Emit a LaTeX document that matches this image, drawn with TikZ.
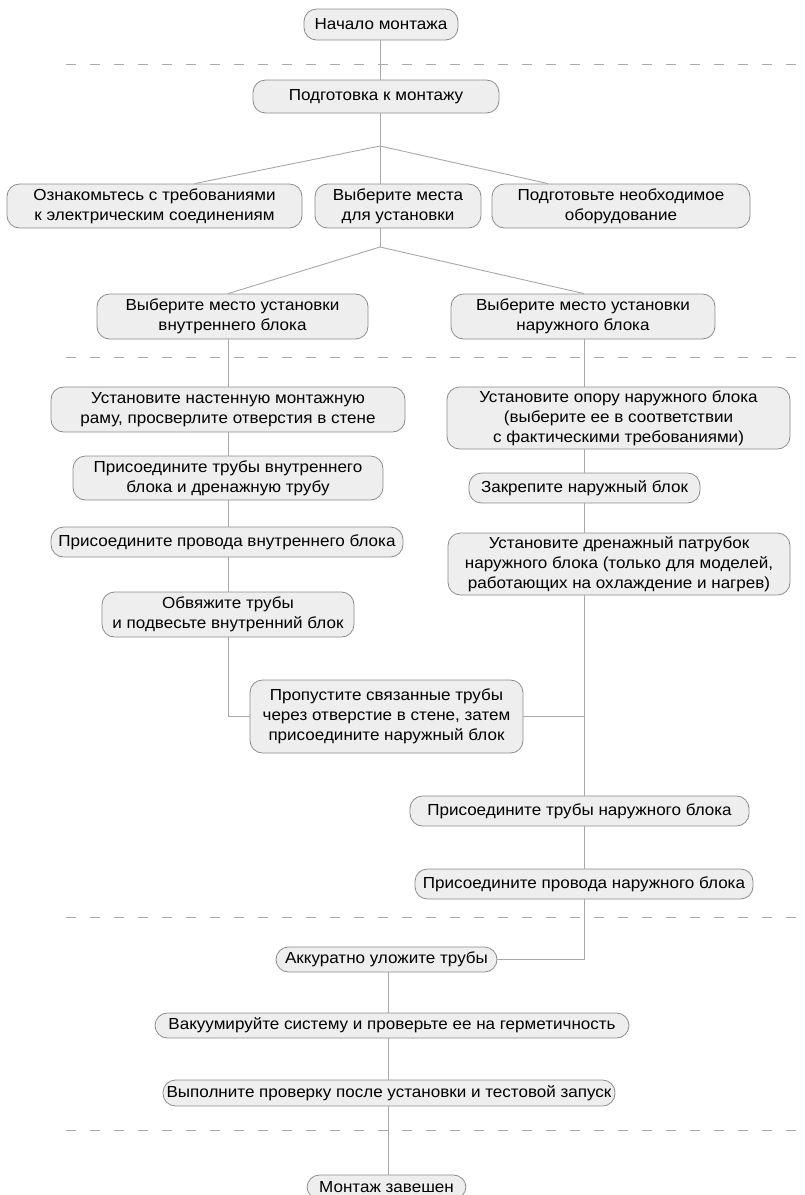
\documentclass[tikz,border=0pt]{standalone}
\usepackage{fontspec}
\setmainfont[FakeStretch=1.065]{Liberation Sans}
\definecolor{boxfill}{HTML}{EEEEEE}
\definecolor{boxline}{HTML}{8C8C8C}
\definecolor{connline}{HTML}{A8A8A8}
\definecolor{sepline}{HTML}{A8A8A8}
\newcommand\fsz{\fontsize{16}{20}\selectfont}
\newcommand\mkbox[6]{%
  \node[box, minimum width={(#4)-(#2)}, minimum height={(#5)-(#3)}] (#1) at ({((#2)+(#4))/2},{((#3)+(#5))/2}) {#6};}
\begin{document}
\begin{tikzpicture}[x=1pt,y=-1pt,
  box/.style={draw=boxline, fill=boxfill, rounded corners=12.5pt, line width=0.8pt, align=center, inner sep=0pt, font=\fsz, text=black},
  conn/.style={draw=connline, line width=0.9pt},
  sep/.style={draw=sepline, line width=0.9pt, dash pattern=on 10pt off 14pt}]
\fill[white] (0,0) rectangle (804,1195);
\useasboundingbox (0,0) rectangle (804,1195);

% separators
\draw[sep] (66,64) -- (804,64);
\draw[sep] (66,357) -- (804,357);
\draw[sep] (66,917) -- (804,917);
\draw[sep] (66,1130) -- (804,1130);

% column guides
\coordinate (cm) at (380,0);
\coordinate (cl) at (228,0);
\coordinate (cr) at (584,0);
\coordinate (cb) at (388,0);
\coordinate (s1) at (380,146);
\coordinate (s2) at (380,247);

% boxes
\mkbox{start}{304}{9}{458}{40}{Начало монтажа}
\mkbox{prep}{253}{80}{499}{113}{Подготовка к монтажу}
\mkbox{req}{7}{184}{302}{228}{Ознакомьтесь с требованиями\\к электрическим соединениям}
\mkbox{places}{315}{184}{481}{228}{Выберите места\\для установки}
\mkbox{equip}{492}{184}{750}{228}{Подготовьте необходимое\\оборудование}
\mkbox{indoor}{97}{294}{368}{339}{Выберите место установки\\внутреннего блока}
\mkbox{outdoor}{451}{294}{715}{339}{Выберите место установки\\наружного блока}
\mkbox{frame}{51}{387}{405}{432}{Установите настенную монтажную\\раму, просверлите отверстия в стене}
\mkbox{pipesin}{73}{456}{383}{500}{Присоедините трубы внутреннего\\блока и дренажную трубу}
\mkbox{wiresin}{51}{527}{403}{557}{Присоедините провода внутреннего блока}
\mkbox{bind}{102}{592}{354}{637}{Обвяжите трубы\\и подвесьте внутренний блок}
\mkbox{support}{447}{387}{790}{449}{Установите опору наружного блока\\(выберите ее в соответствии\\с фактическими требованиями)}
\mkbox{fix}{469}{473}{700}{503}{Закрепите наружный блок}
\mkbox{drain}{448}{533}{790}{595}{Установите дренажный патрубок\\наружного блока (только для моделей,\\работающих на охлаждение и нагрев)}
\mkbox{pass}{250}{680}{523}{753}{Пропустите связанные трубы\\через отверстие в стене, затем\\присоедините наружный блок}
\mkbox{pipesout}{410}{796}{749}{826}{Присоедините трубы наружного блока}
\mkbox{wiresout}{415}{869}{753}{899}{Присоедините провода наружного блока}
\mkbox{neat}{276}{947}{497}{972}{Аккуратно уложите трубы}
\mkbox{vac}{155}{1013}{629}{1038}{Вакуумируйте систему и проверьте ее на герметичность}
\mkbox{check}{163}{1080}{615}{1106}{Выполните проверку после установки и тестовой запуск}
\mkbox{end}{307}{1175}{466}{1199}{Монтаж завешен}

% connectors
\draw[conn] (start.south -| cm) -- (prep.north -| cm);
\draw[conn] (prep.south -| cm) -- (s1);
\draw[conn] (s1) -- ([xshift=40pt]req.north);
\draw[conn] (s1) -- (places.north -| cm);
\draw[conn] (s1) -- ([xshift=-73pt]equip.north);
\draw[conn] (places.south -| cm) -- (s2);
\draw[conn] (s2) -- (indoor.north -| cl);
\draw[conn] (s2) -- (outdoor.north -| cr);
% left column
\draw[conn] (indoor.south -| cl) -- (frame.north -| cl);
\draw[conn] (frame.south -| cl) -- (pipesin.north -| cl);
\draw[conn] (pipesin.south -| cl) -- (wiresin.north -| cl);
\draw[conn] (wiresin.south -| cl) -- (bind.north -| cl);
\draw[conn] (bind.south -| cl) -- (cl |- pass.west) -- (pass.west);
% right column
\draw[conn] (outdoor.south -| cr) -- (support.north -| cr);
\draw[conn] (support.south -| cr) -- (fix.north -| cr);
\draw[conn] (fix.south -| cr) -- (drain.north -| cr);
\draw[conn] (drain.south -| cr) -- (pipesout.north -| cr);
\draw[conn] (pass.east) -- (pass.east -| cr);
\draw[conn] (pipesout.south -| cr) -- (wiresout.north -| cr);
\draw[conn] (wiresout.south -| cr) -- (cr |- neat.east) -- (neat.east);
% bottom
\draw[conn] (neat.south -| cb) -- (vac.north -| cb);
\draw[conn] (vac.south -| cb) -- (check.north -| cb);
\draw[conn] (check.south -| cb) -- (end.north -| cb);
\end{tikzpicture}
\end{document}
